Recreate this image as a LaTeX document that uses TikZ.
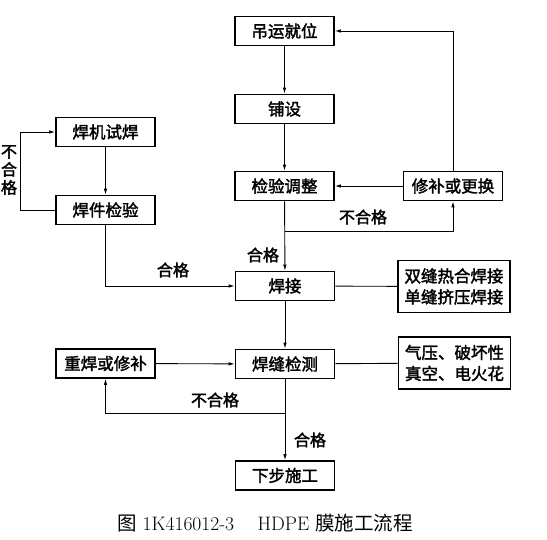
\documentclass[tikz,border=0pt]{standalone}
\usepackage{fontspec}
\newfontfamily\cjk{Noto Sans CJK SC}
\newfontfamily\cjkb[FakeBold=2]{Noto Sans CJK SC}
\usetikzlibrary{arrows.meta}

\begin{document}
\begin{tikzpicture}[x=1pt,y=-1pt,
  box/.style={draw,line width=1.6pt,minimum width=99pt,minimum height=29pt,inner sep=1pt,font=\fontsize{16.5}{18}\selectfont\cjkb},
  note/.style={box,minimum width=112pt,minimum height=52pt,align=center,font=\fontsize{16.5}{21}\selectfont\cjkb},
  lab/.style={font=\fontsize{16}{18}\selectfont\cjkb,inner sep=0pt},
  arr/.style={line width=0.9pt,-{Latex[length=6pt,width=3.5pt]}},
  ln/.style={line width=0.9pt}]
 \useasboundingbox (0,0) rectangle (547,540);
 % main column
 \node[box] (hoist) at (284.5,31) {吊运就位};
 \node[box] (lay) at (284.5,109) {铺设};
 \node[box] (adjust) at (284.5,186) {检验调整};
 \node[box] (repair) at (453,186) {修补或更换};
 \node[box] (weld) at (285,286) {焊接};
 \node[box] (inspect) at (285,364) {焊缝检测};
 \node[box] (next) at (285,475.5) {下步施工};
 % left column
 \node[box] (trial) at (105.5,132) {焊机试焊};
 \node[box] (check) at (105.5,210) {焊件检验};
 \node[box] (reweld) at (105.5,363.5) {重焊或修补};
 % notes on the right
 \node[note] (method) at (454,286.5) {双缝热合焊接\\单缝挤压焊接};
 \node[note] (test) at (454.5,363) {气压、破坏性\\真空、电火花};
 % connectors
 \draw[arr] (hoist) -- (lay);
 \draw[arr] (lay) -- (adjust);
 \draw[arr] (repair.north) |- (hoist.east);
 \draw[arr] (repair) -- (adjust);
 \draw[arr] (adjust) -- (weld);
 \coordinate (j1) at (adjust.south |- 0,231);
 \draw[arr] (j1) -| (repair.south);
 \node[lab] at (363,217) {不合格};
 \node[lab] at (263,255) {合格};
 \draw[arr] (trial) -- (check);
 \draw[arr] (check.west) -- ++(-35,0) |- (trial.west);
 \node[lab,align=center,font=\fontsize{16}{18}\selectfont\cjkb] at (9,170) {不\\合\\格};
 \draw[arr] (check.south) |- (weld.west);
 \node[lab] at (173,270) {合格};
 \draw[ln] (weld) -- (method);
 \draw[arr] (weld) -- (inspect);
 \draw[arr] (reweld) -- (inspect);
 \draw[ln] (inspect) -- (test);
 \draw[arr] (inspect) -- (next);
 \coordinate (j2) at (inspect.south |- 0,413);
 \draw[arr] (j2) -| (reweld.south);
 \node[lab] at (215,400) {不合格};
 \node[lab] at (310,440) {合格};
 % caption
 \node[font=\fontsize{19.5}{22}\selectfont] (cap) at (265,523) {{\cjk 图} 1K416012-3\hspace{1.2em}HDPE {\cjk 膜施工流程}};
\end{tikzpicture}
\end{document}
